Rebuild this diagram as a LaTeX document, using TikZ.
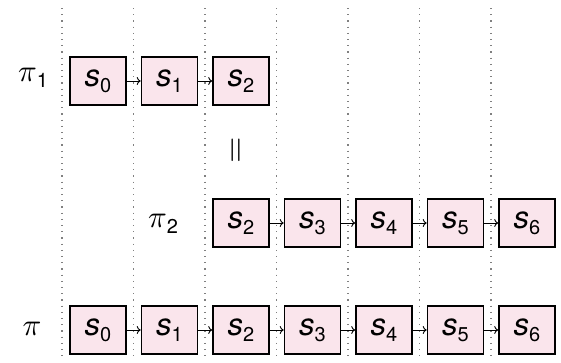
\documentclass[tikz,border=0pt]{standalone}
\usepackage{graphicx}
\usepackage{fontspec}
\setmainfont{TeX Gyre Heros}
\usetikzlibrary{arrows.meta}
\definecolor{boxfill}{RGB}{250,229,236}
\newcommand{\subd}[1]{\raisebox{-6pt}{\fontsize{20}{22}\selectfont #1}}
\newcommand{\stt}[1]{{\itshape s}\subd{#1}}
\newcommand{\bigpi}{\scalebox{3.1}{\fontsize{10}{12}\selectfont$\pi$}}
\begin{document}
\begin{tikzpicture}[x=1pt,y=-1pt,
  state/.style={draw=black,line width=1.6pt,fill=boxfill,minimum width=56pt,minimum height=48pt,inner sep=0pt,font=\fontsize{31}{34}\selectfont},
  lbl/.style={font=\fontsize{31}{34}\selectfont,inner sep=0pt},
  guide/.style={gray,line width=1.1pt,dash pattern=on 1.2pt off 5pt},
  link/.style={-{To[length=4pt,width=8pt]},line width=0.9pt}]
\useasboundingbox (0,0) rectangle (561,362);
% guides
\foreach \k in {0,...,6}{
  \coordinate (gt\k) at ({62+71.5*\k},8);
  \coordinate (gb\k) at ({62+71.5*\k},358);
  \draw[guide] (gt\k) -- (gb\k);
}
% row 1
\node[state] (a0) at (98,81) {\stt{0}};
\node[state] (a1) at (169.5,81) {\stt{1}};
\node[state] (a2) at (241,81) {\stt{2}};
\node[lbl] (p1) at (33,78) {\bigpi\subd{1}};
\draw[link] (a0) -- (a1);
\draw[link] (a1) -- (a2);
% equality
\node[lbl,rotate=90] (eq) at (238,150) {\scalebox{3.4}{\fontsize{10}{12}\selectfont$=$}};
% row 2
\node[state] (b2) at (241,223) {\stt{2}};
\node[state] (b3) at (312.5,223) {\stt{3}};
\node[state] (b4) at (384,223) {\stt{4}};
\node[state] (b5) at (455.5,223) {\stt{5}};
\node[state] (b6) at (527,223) {\stt{6}};
\node[lbl] (p2) at (163,224) {\bigpi\subd{2}};
\draw[link] (b2) -- (b3);
\draw[link] (b3) -- (b4);
\draw[link] (b4) -- (b5);
\draw[link] (b5) -- (b6);
% row 3
\node[state] (c0) at (98,330) {\stt{0}};
\node[state] (c1) at (169.5,330) {\stt{1}};
\node[state] (c2) at (241,330) {\stt{2}};
\node[state] (c3) at (312.5,330) {\stt{3}};
\node[state] (c4) at (384,330) {\stt{4}};
\node[state] (c5) at (455.5,330) {\stt{5}};
\node[state] (c6) at (527,330) {\stt{6}};
\node[lbl] (p) at (32,329) {\bigpi};
\draw[link] (c0) -- (c1);
\draw[link] (c1) -- (c2);
\draw[link] (c2) -- (c3);
\draw[link] (c3) -- (c4);
\draw[link] (c4) -- (c5);
\draw[link] (c5) -- (c6);
\end{tikzpicture}
\end{document}
